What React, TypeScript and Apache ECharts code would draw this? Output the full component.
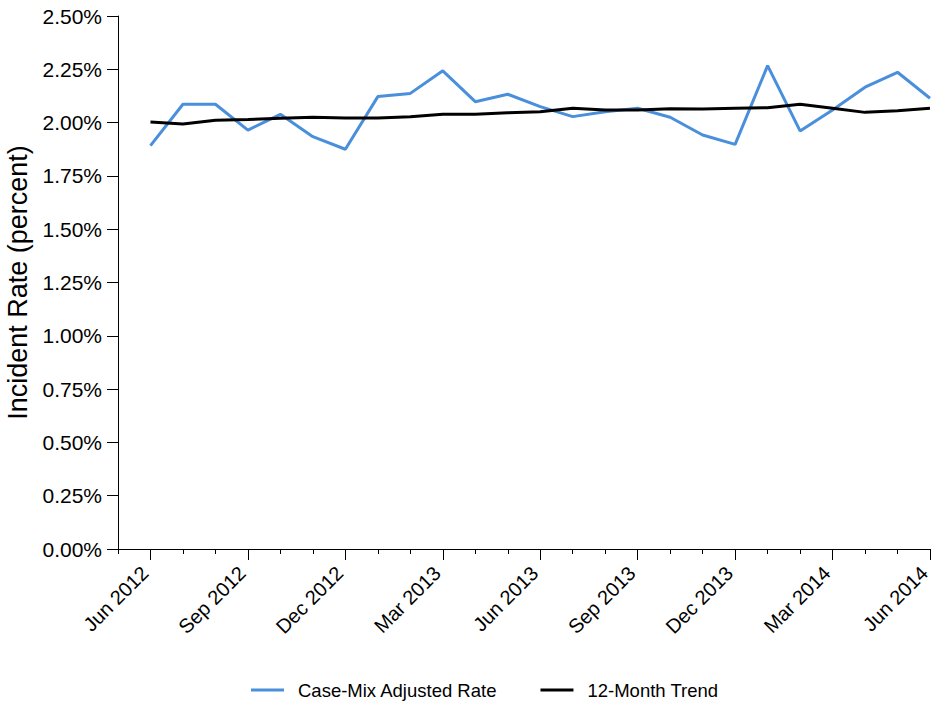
import React, { useEffect, useRef } from "react";
import * as echarts from "echarts";

const categories = [
  "May 2012", "Jun 2012", "Jul 2012", "Aug 2012", "Sep 2012", "Oct 2012", "Nov 2012", "Dec 2012",
  "Jan 2013", "Feb 2013", "Mar 2013", "Apr 2013", "May 2013", "Jun 2013", "Jul 2013", "Aug 2013",
  "Sep 2013", "Oct 2013", "Nov 2013", "Dec 2013", "Jan 2014", "Feb 2014", "Mar 2014", "Apr 2014",
  "May 2014", "Jun 2014",
];

const caseMixRate = [
  null, 1.892, 2.086, 2.086, 1.965, 2.039, 1.934, 1.875,
  2.122, 2.137, 2.243, 2.098, 2.133, 2.075, 2.028, 2.051,
  2.067, 2.025, 1.942, 1.898, 2.267, 1.961, 2.059, 2.166,
  2.236, 2.114,
];

const trend12Month = [
  null, 2.003, 1.993, 2.011, 2.015, 2.020, 2.025, 2.022,
  2.022, 2.028, 2.039, 2.039, 2.046, 2.051, 2.067, 2.059,
  2.059, 2.065, 2.064, 2.067, 2.070, 2.086, 2.067, 2.048,
  2.056, 2.067,
];

const seriesNames = ["Case-Mix Adjusted Rate", "12-Month Trend"];
const yAxisTitle = "Incident Rate (percent)";

const FONT = "'Liberation Sans', Arial, Helvetica, sans-serif";
const BLUE = "#4A8FDB";

export default function App() {
  const ref = useRef<HTMLDivElement>(null);
  useEffect(() => {
    if (!ref.current) return;
    const chart = echarts.init(ref.current, undefined, { renderer: "svg" });
    const majorIdx = (i: number) => i % 3 === 1;
    chart.setOption({
      animation: false,
      backgroundColor: "#fff",
      textStyle: { fontFamily: FONT },
      grid: { left: 118, right: 2, top: 16, bottom: 153, containLabel: false, outerBoundsMode: "none" },
      legend: {
        left: 251,
        top: 680,
        padding: 0,
        itemWidth: 33,
        itemHeight: 3,
        itemGap: 43,
        icon: "rect",
        data: [
          { name: seriesNames[0], itemStyle: { color: BLUE } },
          { name: seriesNames[1], itemStyle: { color: "#000" } },
        ],
        textStyle: { fontFamily: FONT, fontSize: 18.5, color: "#000", padding: [0, 0, 0, 9], lineHeight: 20 },
      },
      xAxis: [
        {
          type: "category",
          data: categories,
          boundaryGap: false,
          position: "bottom",
          axisLine: { show: true, lineStyle: { color: "#000", width: 1 } },
          axisTick: { show: true, interval: 0, length: 5, lineStyle: { color: "#000" } },
          axisLabel: { show: false },
          splitLine: { show: false },
        },
        {
          type: "category",
          data: categories,
          boundaryGap: false,
          position: "bottom",
          axisLine: { show: false },
          axisTick: { show: true, interval: (i: number) => majorIdx(i), length: 11, lineStyle: { color: "#000" } },
          axisLabel: {
            show: true,
            interval: (i: number) => majorIdx(i),
            rotate: 45,
            margin: 15,
            padding: [0, 8, 0, 0],
            fontSize: 20,
            color: "#000",
            fontFamily: FONT,
          },
          splitLine: { show: false },
        },
      ],
      yAxis: {
        type: "value",
        min: 0,
        max: 2.5,
        interval: 0.25,
        name: yAxisTitle,
        nameLocation: "middle",
        nameGap: 82,
        nameTextStyle: { fontSize: 27, color: "#000", fontFamily: FONT },
        axisLine: { show: true, lineStyle: { color: "#000", width: 1 } },
        axisTick: { show: true, length: 11, lineStyle: { color: "#000" } },
        axisLabel: {
          margin: 16,
          fontSize: 21,
          color: "#000",
          fontFamily: FONT,
          formatter: (v: number) => v.toFixed(2) + "%",
        },
        splitLine: { show: false },
      },
      series: [
        {
          name: seriesNames[0],
          type: "line",
          xAxisIndex: 0,
          data: caseMixRate,
          showSymbol: false,
          symbol: "none",
          lineStyle: { color: BLUE, width: 3 },
          itemStyle: { color: BLUE },
        },
        {
          name: seriesNames[1],
          type: "line",
          xAxisIndex: 0,
          data: trend12Month,
          showSymbol: false,
          symbol: "none",
          lineStyle: { color: "#000", width: 3 },
          itemStyle: { color: "#000" },
        },
      ],
    });
    return () => chart.dispose();
  }, []);
  return (
    <div
      ref={ref}
      style={{ position: "fixed", left: 0, top: 0, width: 932, height: 702, background: "#fff" }}
    />
  );
}
